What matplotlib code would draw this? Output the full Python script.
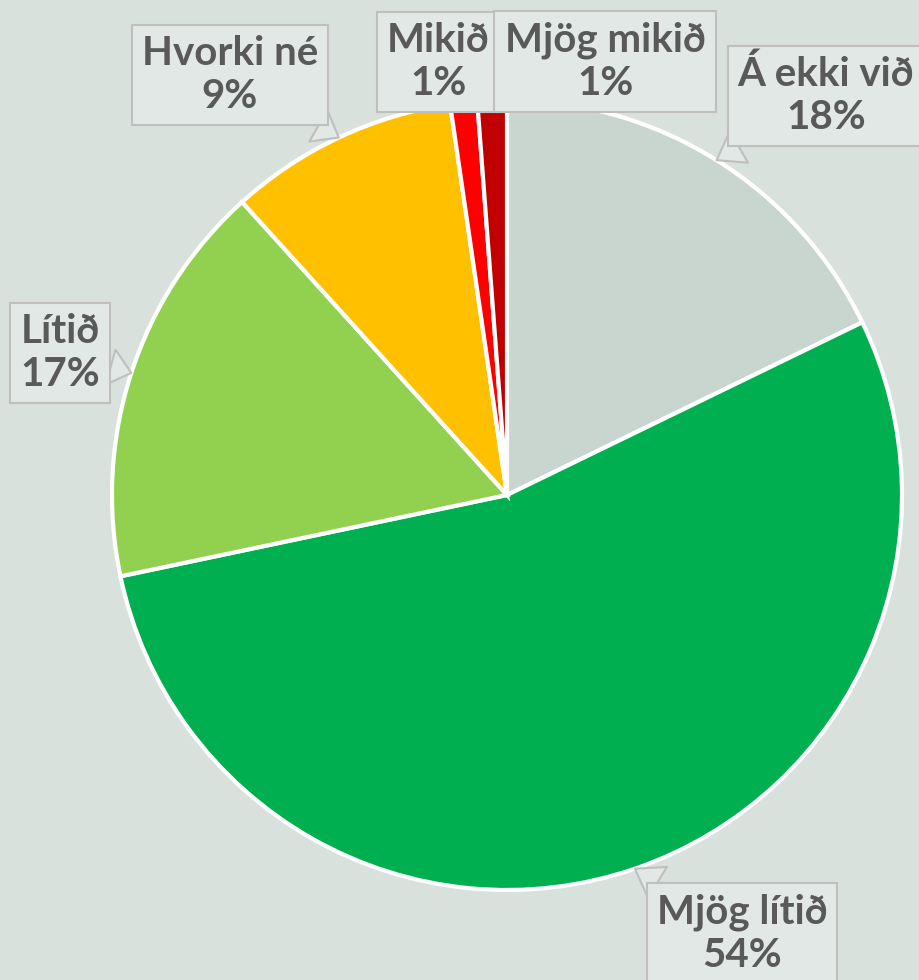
import matplotlib as mpl

mpl.use('Agg')
import matplotlib.pyplot as plt
import numpy as np

# gögn, réttsælis frá toppi
flokkar = ['Á ekki við', 'Mjög lítið', 'Lítið', 'Hvorki né', 'Mikið', 'Mjög mikið']
hlutfall = [17.8, 53.9, 16.6, 9.4, 1.1, 1.2]
litir = ['#c9d5cf', '#00b050', '#92d050', '#ffc000', '#ff0000', '#c00000']

# staðsetning merkja (miðja kassa í pixlum, y frá toppi) og hvort ör er sýnd
merki_xy = [(826, 96), (742, 934), (60, 353), (230, 75), (438, 62), (605, 62)]
med_or = [True, True, True, True, False, False]

BG = '#d9e1dd'
BOX = '#e2e8e5'
EDGE = '#bfbfbf'
TXT = '#595959'

W, H = 920, 980
cx, cy, R = 507, 485, 395

fig = plt.figure(figsize=(W / 100, H / 100), dpi=100, facecolor=BG)
ax = fig.add_axes([0, 0, 1, 1])
ax.set_facecolor(BG)

wedges, _ = ax.pie(hlutfall, colors=litir, startangle=90, counterclock=False,
                   center=(cx, cy), radius=R,
                   wedgeprops=dict(edgecolor='white', linewidth=3))
ax.set_xlim(0, W)
ax.set_ylim(0, H)
ax.set_aspect('equal')
ax.axis('off')

for w, nafn, val, (tx, ty), ora in zip(wedges, flokkar, hlutfall, merki_xy, med_or):
    mid = np.deg2rad((w.theta1 + w.theta2) / 2)
    px = cx + R * np.cos(mid)
    py = cy + R * np.sin(mid)
    texti = f'{nafn}\n{int(round(val))}%'
    kw = {}
    if ora:
        kw['arrowprops'] = dict(arrowstyle='wedge,tail_width=0.9,shrink_factor=0.5',
                                fc=BOX, ec=EDGE, lw=1.5, shrinkA=0, shrinkB=0)
    ax.annotate(texti, xy=(px, py), xytext=(tx, H - ty),
                ha='center', va='center', fontsize=29, fontweight='bold',
                family=['Lato', 'DejaVu Sans'], color=TXT, linespacing=1.2,
                bbox=dict(boxstyle='square,pad=0.25', fc=BOX, ec=EDGE, lw=1.5),
                zorder=5, **kw)

plt.savefig('out.png', dpi=100, facecolor=BG)
